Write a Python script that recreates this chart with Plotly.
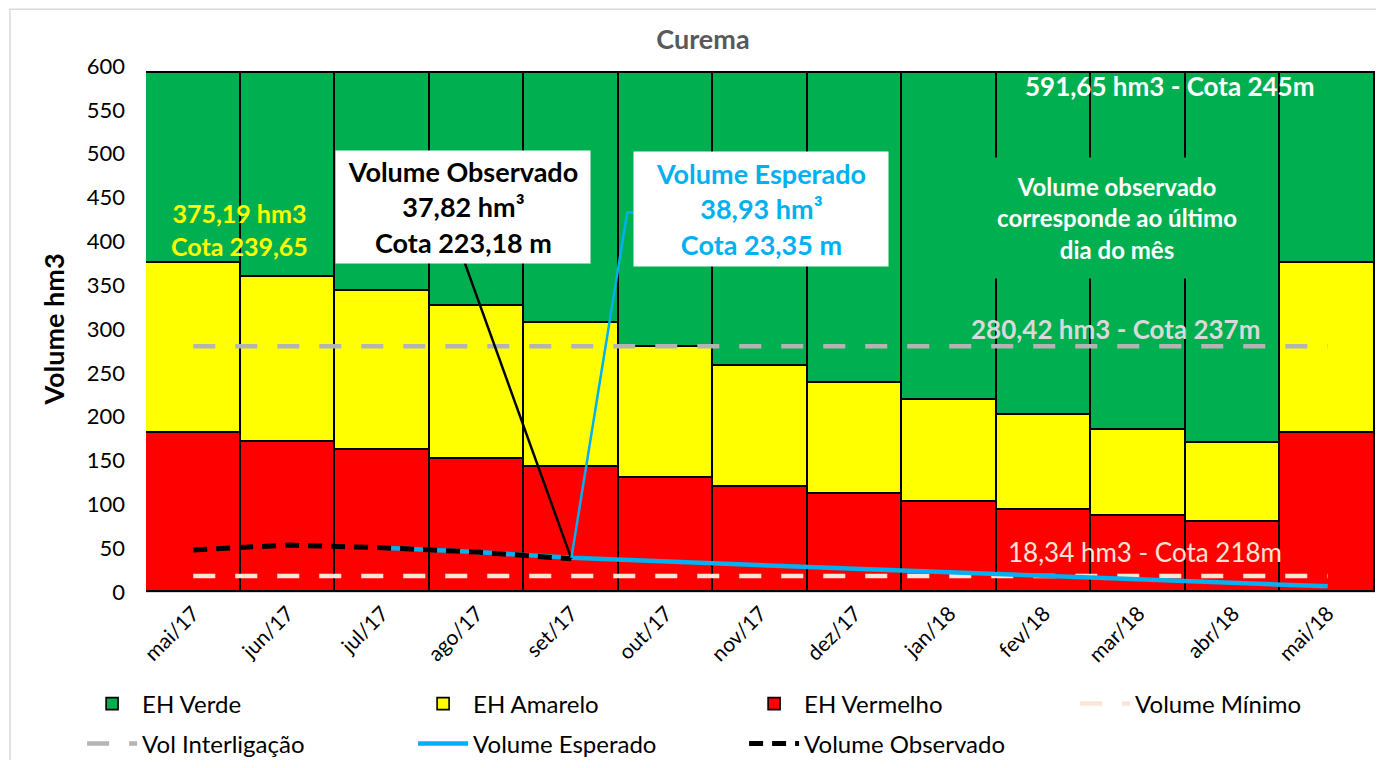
import plotly.graph_objects as go

meses = ["mai/17", "jun/17", "jul/17", "ago/17", "set/17", "out/17", "nov/17",
         "dez/17", "jan/18", "fev/18", "mar/18", "abr/18", "mai/18"]
eh_vermelho = [181, 171, 162, 152, 142.5, 130.5, 120, 111.5, 102.5, 93.5, 86.5, 80, 181]
eh_amarelo_topo = [375.19, 359, 343, 326, 307, 279.5, 258, 238.5, 219.5, 202, 185, 170, 375.19]
volume_total = 591.65
vol_minimo = 18.34
vol_interligacao = 280.42
vol_observado = [48, 53.5, 50.5, 45.5, 37.82, None, None, None, None, None, None, None, None]
vol_esperado = [None, None, 50.5, 45.5, 38.93, 34.5, 30.5, 26.5, 22.5, 18.5, 14.5, 10.5, 6.5]

eh_amarelo = [t - r for t, r in zip(eh_amarelo_topo, eh_vermelho)]
eh_verde = [volume_total - t for t in eh_amarelo_topo]

FONT = "Lato"
GREEN = "#00B050"
YELLOW = "#FFFF00"
RED = "#FF0000"
BLUE = "#00B0F0"

fig = go.Figure()
bar_line = dict(color="black", width=1.6)
fig.add_trace(go.Bar(x=meses, y=eh_vermelho, name="EH Vermelho", marker=dict(color=RED, line=bar_line),
                     legendrank=3, legend="legend"))
fig.add_trace(go.Bar(x=meses, y=eh_amarelo, name="EH Amarelo", marker=dict(color=YELLOW, line=bar_line),
                     legendrank=2, legend="legend"))
fig.add_trace(go.Bar(x=meses, y=eh_verde, name="EH Verde", marker=dict(color=GREEN, line=bar_line),
                     legendrank=1, legend="legend"))

fig.add_trace(go.Scatter(x=meses, y=[vol_minimo] * len(meses), name="Volume Mínimo", mode="lines",
                         line=dict(color="#FBE5D6", width=4.5, dash="22px,20px"), legendrank=4, legend="legend"))
fig.add_trace(go.Scatter(x=meses, y=[vol_interligacao] * len(meses), name="Vol Interligação", mode="lines",
                         line=dict(color="#B4B4B4", width=4.5, dash="22px,20px"), legendrank=5, legend="legend2"))
fig.add_trace(go.Scatter(x=meses, y=vol_esperado, name="Volume Esperado", mode="lines",
                         line=dict(color=BLUE, width=4.5), legendrank=6, legend="legend2"))
fig.add_trace(go.Scatter(x=meses, y=vol_observado, name="Volume Observado", mode="lines",
                         line=dict(color="black", width=5, dash="14px,9px"), legendrank=7, legend="legend2"))

annotations = [
    dict(x=0.49, y=414, text="<b>375,19 hm3<br>Cota 239,65</b>", font=dict(color=YELLOW, size=25)),
    dict(x=10.33, y=577, text="<b>591,65 hm3 - Cota 245m</b>", font=dict(color="white", size=26)),
    dict(x=9.75, y=300, text="<b>280,42 hm3 - Cota 237m</b>", font=dict(color="#D9D9D9", size=26)),
    dict(x=10.07, y=45.6, text="18,34 hm3 - Cota 218m", font=dict(color="#FBE5D6", size=26)),
    dict(x=9.77, y=426.5, text="<b>Volume observado<br>corresponde ao último<br>dia do mês</b>",
         font=dict(color="white", size=24), bgcolor=GREEN, width=318, height=118),
    dict(x=2.85, y=439, text="<b>Volume Observado<br>37,82 hm³<br>Cota 223,18 m</b>",
         font=dict(color="black", size=27), bgcolor="white", width=252, height=110),
    dict(x=6.0, y=437, text="<b>Volume Esperado<br>38,93 hm³<br>Cota 23,35 m</b>",
         font=dict(color=BLUE, size=27), bgcolor="white", width=252, height=112),
]
for a in annotations:
    a.update(xref="x", yref="y", showarrow=False, align="center")
    a["font"]["family"] = FONT

shapes = [
    dict(type="line", xref="x", yref="y", x0=2.87, y0=376, x1=4, y1=37.82,
         line=dict(color="black", width=2.5)),
    dict(type="path", xref="x", yref="y", path="M 4,38.93 L 4.59,433 L 4.68,433",
         line=dict(color=BLUE, width=2.5)),
    dict(type="rect", xref="paper", yref="paper", x0=-0.1107, x1=1.02, y0=-0.34, y1=1.108,
         line=dict(color="#D9D9D9", width=1.5), layer="below"),
]

legend_common = dict(orientation="h", xanchor="left", yanchor="middle", entrywidth=266,
                     entrywidthmode="pixels", font=dict(family=FONT, size=24, color="black"),
                     traceorder="normal", itemwidth=50, bgcolor="rgba(0,0,0,0)")

# the page body adds an 8px offset; the figure is sized so that it fills the 1384x768 view
fig.update_layout(
    width=1368, height=752,
    margin=dict(l=138, r=1, t=58, b=168, autoexpand=False),
    paper_bgcolor="white", plot_bgcolor="white",
    barmode="stack", bargap=0,
    font=dict(family=FONT, size=21, color="black"),
    title=dict(text="<b>Curema</b>", x=0.508, xanchor="center", y=1 - 32 / 752, yanchor="middle",
               font=dict(family=FONT, size=27, color="#595959")),
    xaxis=dict(type="category", range=[-0.5, 12.5], tickangle=-45, showgrid=False,
               showline=True, linecolor="#D9D9D9", ticks="", tickfont=dict(size=21)),
    yaxis=dict(range=[0, 600], dtick=50, showgrid=True, gridcolor="#D9D9D9", zeroline=False,
               ticks="", tickfont=dict(size=22), ticklabelstandoff=20,
               title=dict(text="<b>Volume hm3</b>", font=dict(size=27), standoff=14)),
    legend=dict(x=-0.052, y=-0.2129, **legend_common),
    legend2=dict(x=-0.052, y=-0.2890, **legend_common),
    annotations=annotations,
    shapes=shapes,
    showlegend=True,
)

fig.write_html("out.html")
